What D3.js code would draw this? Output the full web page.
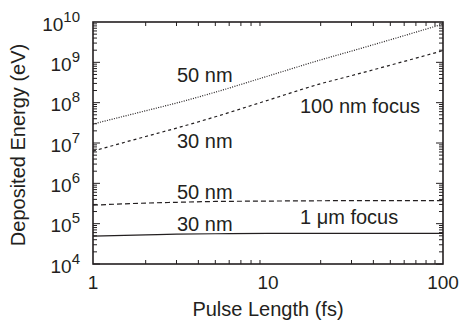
<!DOCTYPE html>
<html>
<head>
<meta charset="utf-8">
<script src="https://cdn.jsdelivr.net/npm/d3@7"></script>
<style>
	body { margin: 0; background: #fff; }
	svg { display: block; font-family: "Liberation Sans", Arial, Helvetica, sans-serif; }
</style>
</head>
<body>
<div id="chart"></div>
<script>
const pulseLength = [1, 2, 3, 5, 10, 20, 30, 50, 100];

// 100 nm focus
const focus100nm50 = [2.95e7, 6.3e7, 9.8e7, 1.82e8, 4.57e8, 1.15e9, 1.9e9, 3.63e9, 8.9e9];
const focus100nm30 = [6.3e6, 1.45e7, 2.34e7, 4.47e7, 1.15e8, 2.95e8, 4.68e8, 8.5e8, 1.95e9];

// 1 um focus
const focus1um50 = [2.88e5, 3.24e5, 3.39e5, 3.55e5, 3.63e5, 3.7e5, 3.72e5, 3.72e5, 3.72e5];
const focus1um30 = [4.9e4, 5.25e4, 5.5e4, 5.62e4, 5.75e4, 5.75e4, 5.75e4, 5.75e4, 5.75e4];

const xTicks = [1, 10, 100];
const yExponents = [4, 5, 6, 7, 8, 9, 10];

const width = 461;
const height = 322;
const margin = { left: 93, right: 18, top: 22, bottom: 58 };
const ink = '#231f20';

const svg = d3.select('#chart').append('svg')
	.attr('width', width)
	.attr('height', height);

const x = d3.scaleLog()
	.domain([1, 100])
	.range([margin.left, width - margin.right]);

const y = d3.scaleLog()
	.domain([1e4, 1e10])
	.range([height - margin.bottom, margin.top]);

const x0 = x.range()[0], x1 = x.range()[1];
const y0 = y.range()[0], y1 = y.range()[1];

// minor + major ticks, drawn inward on all four sides
function drawTicks() {
	const g = svg.append('g').attr('stroke', ink).attr('stroke-width', 1);
	const xMinor = [];
	for (let d = 1; d < 100; d *= 10) {
		for (let k = 2; k <= 9; k++) xMinor.push(d * k);
	}
	xMinor.forEach(v => {
		const len = v === 10 ? 7 : 4;
		g.append('line').attr('x1', x(v)).attr('x2', x(v)).attr('y1', y0).attr('y2', y0 - len);
		g.append('line').attr('x1', x(v)).attr('x2', x(v)).attr('y1', y1).attr('y2', y1 + len);
	});
	const yMinor = [];
	for (let e = 4; e < 10; e++) {
		for (let k = 1; k <= 9; k++) yMinor.push({ v: k * Math.pow(10, e), major: k === 1 });
	}
	yMinor.forEach(t => {
		const len = t.major ? 7 : 4;
		g.append('line').attr('x1', x0).attr('x2', x0 + len).attr('y1', y(t.v)).attr('y2', y(t.v));
		g.append('line').attr('x1', x1).attr('x2', x1 - len).attr('y1', y(t.v)).attr('y2', y(t.v));
	});
}

function drawFrame() {
	svg.append('rect')
		.attr('x', x0)
		.attr('y', y1)
		.attr('width', x1 - x0)
		.attr('height', y0 - y1)
		.attr('fill', 'none')
		.attr('stroke', ink)
		.attr('stroke-width', 1.6);
}

function drawLabels() {
	svg.selectAll('.xlabel')
		.data(xTicks)
		.enter().append('text')
		.attr('class', 'xlabel')
		.attr('x', d => x(d))
		.attr('y', 289)
		.attr('text-anchor', 'middle')
		.attr('font-size', 19)
		.attr('fill', ink)
		.text(d => d);

	const yl = svg.selectAll('.ylabel')
		.data(yExponents)
		.enter().append('text')
		.attr('class', 'ylabel')
		.attr('x', 80)
		.attr('y', d => y(Math.pow(10, d)) + 8.5)
		.attr('text-anchor', 'end')
		.attr('font-size', 19)
		.attr('fill', ink);
	yl.append('tspan').text('10');
	yl.append('tspan')
		.attr('dy', -9)
		.attr('font-size', 15)
		.text(d => d);

	svg.append('text')
		.attr('x', (x0 + x1) / 2)
		.attr('y', 316)
		.attr('text-anchor', 'middle')
		.attr('font-size', 20)
		.attr('fill', ink)
		.text('Pulse Length (fs)');

	svg.append('text')
		.attr('transform', `translate(25,${(y0 + y1) / 2 + 2}) rotate(-90)`)
		.attr('text-anchor', 'middle')
		.attr('font-size', 20)
		.attr('fill', ink)
		.text('Deposited Energy (eV)');
}

function drawSeries() {
	const series = [
		{ values: focus100nm50, dash: '1,1.4' },
		{ values: focus100nm30, dash: '3,3' },
		{ values: focus1um50, dash: '5,3' },
		{ values: focus1um30, dash: null }
	];
	const line = d3.line()
		.x(d => x(d[0]))
		.y(d => y(d[1]))
		.curve(d3.curveMonotoneX);

	series.forEach(s => {
		svg.append('path')
			.datum(pulseLength.map((p, i) => [p, s.values[i]]))
			.attr('d', line)
			.attr('fill', 'none')
			.attr('stroke', ink)
			.attr('stroke-width', 1.2)
			.attr('stroke-dasharray', s.dash);
	});

	const notes = [
		{ text: '50 nm', x: 177, y: 82 },
		{ text: '100 nm focus', x: 300, y: 113 },
		{ text: '30 nm', x: 177, y: 148 },
		{ text: '50 nm', x: 177, y: 199 },
		{ text: '30 nm', x: 177, y: 231 },
		{ text: '1 \u03bcm focus', x: 300, y: 224 }
	];
	svg.selectAll('.note')
		.data(notes)
		.enter().append('text')
		.attr('class', 'note')
		.attr('x', d => d.x)
		.attr('y', d => d.y)
		.attr('font-size', 20)
		.attr('fill', ink)
		.text(d => d.text);
}

drawTicks();
drawSeries();
drawFrame();
drawLabels();
</script>
</body>
</html>
